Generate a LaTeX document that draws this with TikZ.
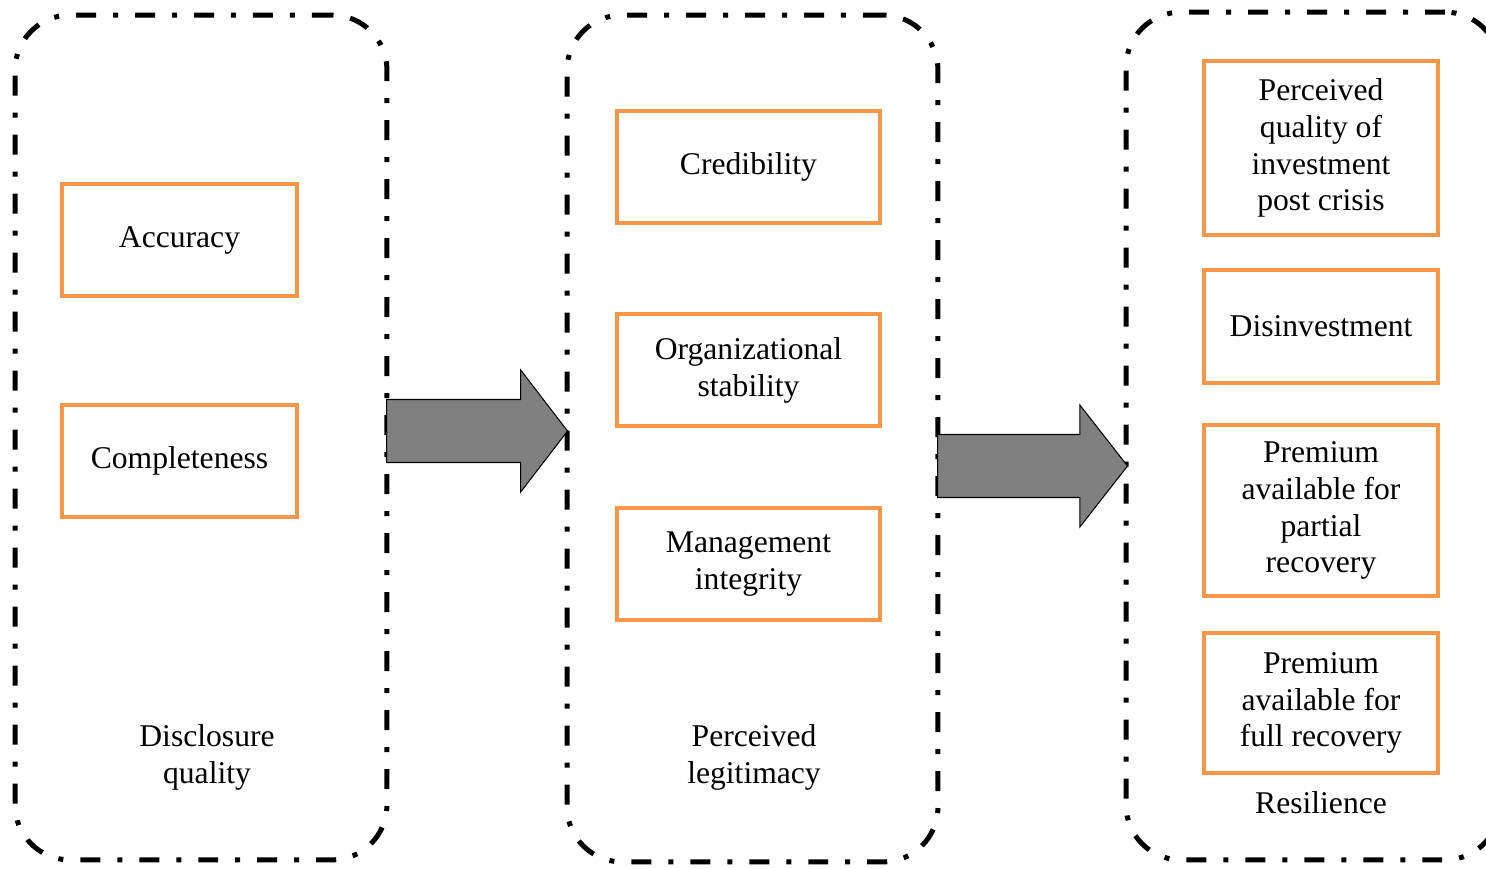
\documentclass[tikz,border=0pt]{standalone}
\usepackage{fontspec}
\setmainfont{Liberation Serif}
\usetikzlibrary{shapes.arrows}
\definecolor{boxorange}{HTML}{F79646}
\definecolor{arrowgray}{RGB}{128,128,128}

\begin{document}
\begin{tikzpicture}[x=0.02cm, y=-0.02cm,
    group/.style={draw=black, line width=0.1cm, rounded corners=1.1cm, dash pattern=on 0.4cm off 0.34cm on 0.1cm off 0.34cm, minimum width=7.44cm, minimum height=16.9cm, inner sep=0},
    item/.style={draw=boxorange, line width=0.08cm, align=center, inner sep=0, font=\fontsize{18}{21}\selectfont},
    caption/.style={align=center, inner sep=0, font=\fontsize{18}{21}\selectfont},
    bigarrow/.style={single arrow, fill=arrowgray, draw=black, line width=0.6pt, inner xsep=0, inner ysep=0.62cm, single arrow head extend=0.59cm, anchor=tail}]
    \useasboundingbox (0,0) rectangle (1486,868);

    % the three groups
    \node[group]  at (201, 437.5) (disclosure) {};
    \node[group, minimum width=7.42cm, minimum height=16.94cm]  at (752.5, 438.5) (legitimacy) {};
    \node[group, minimum width=7.48cm, minimum height=16.96cm]  at (1313, 436) (resilience) {};

    \node[item, minimum width=4.7cm, minimum height=2.24cm]  at (179.5, 240) (accuracy) {Accuracy};
    \node[item, minimum width=4.7cm, minimum height=2.24cm]  at (179.5, 461) (completeness) {Completeness};
    \node[caption]  at (207, 757) (disclosurelabel) {Disclosure\\quality};

    \node[item, minimum width=5.26cm, minimum height=2.24cm]  at (748.5, 167) (credibility) {Credibility};
    \node[item, minimum width=5.26cm, minimum height=2.24cm]  at (748.5, 370) (stability) {Organizational\\stability};
    \node[item, minimum width=5.26cm, minimum height=2.24cm]  at (748.5, 564) (integrity) {Management\\integrity};
    \node[caption]  at (754, 757) (legitimacylabel) {Perceived\\legitimacy};

    \node[item, minimum width=4.68cm, minimum height=3.48cm]  at (1321, 148) (quality) {Perceived\\quality of\\investment\\post crisis};
    \node[item, minimum width=4.68cm, minimum height=2.26cm]  at (1321, 326.5) (disinvestment) {Disinvestment};
    \node[item, minimum width=4.68cm, minimum height=3.42cm]  at (1321, 510.5) (partial) {Premium\\available for\\partial\\recovery};
    \node[item, minimum width=4.68cm, minimum height=2.8cm]  at (1321, 703) (full) {Premium\\available for\\full recovery};
    \node[caption]  at (1321, 803) (resiliencelabel) {Resilience};

    % block arrows between the groups
    \node[bigarrow, minimum height=3.62cm, single arrow tip angle=105]  at (386, 431) (arrowA) {};
    \node[bigarrow, minimum height=3.8cm, single arrow tip angle=104]  at (937, 466) (arrowB) {};

\end{tikzpicture}
\end{document}
